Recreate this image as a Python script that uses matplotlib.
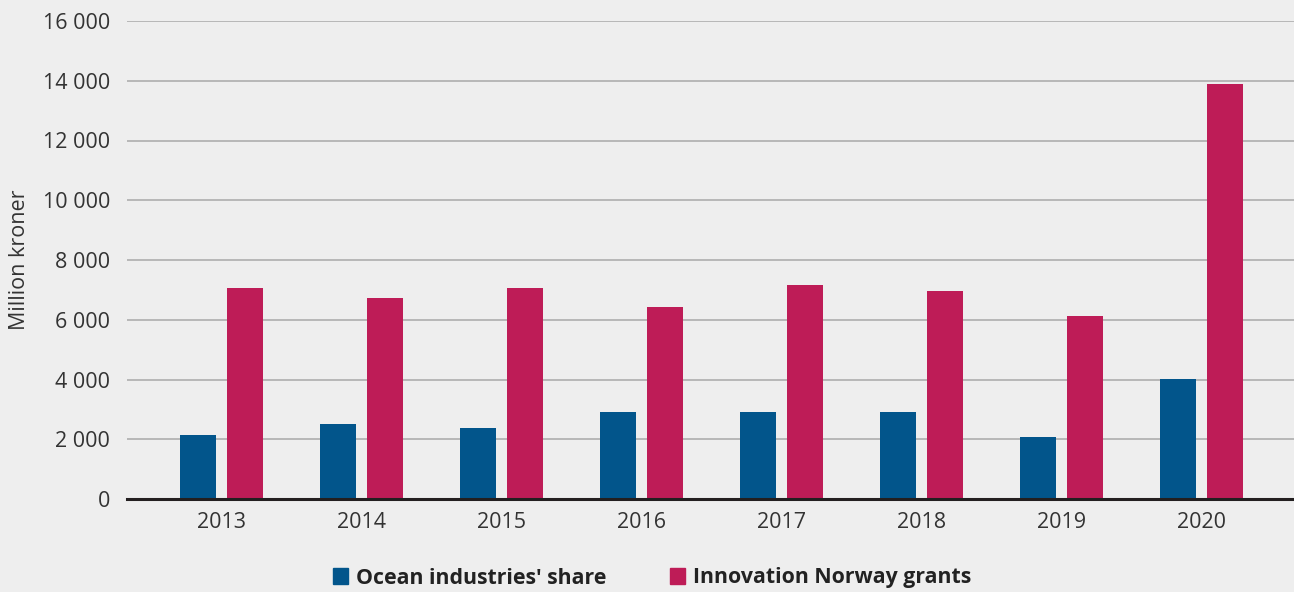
import numpy as np
import matplotlib.pyplot as plt
from matplotlib.patches import Patch

plt.rcParams['font.family'] = ['Open Sans', 'DejaVu Sans']

years = ['2013', '2014', '2015', '2016', '2017', '2018', '2019', '2020']
ocean_share = [2150, 2520, 2360, 2920, 2920, 2920, 2090, 4030]
innovation_grants = [7050, 6740, 7050, 6440, 7150, 6950, 6140, 13880]
y_ticks = [0, 2000, 4000, 6000, 8000, 10000, 12000, 14000, 16000]

blue = '#02558b'
pink = '#be1c57'
bg = '#eeeeee'

fig = plt.figure(figsize=(12.94, 5.92), dpi=100, facecolor=bg)
ax = fig.add_axes([127 / 1294, 93 / 592, 1 - 127 / 1294, 478 / 592])
ax.set_facecolor(bg)

x = np.arange(len(years))
w = 0.257
off = 0.168
ax.bar(x - off, ocean_share, width=w, color=blue, zorder=3)
ax.bar(x + off, innovation_grants, width=w, color=pink, zorder=3)

ax.set_xlim(-0.675, 7.66)
ax.set_ylim(0, 16000)
ax.set_yticks(y_ticks)
ax.set_yticklabels([f'{v:,}'.replace(',', ' ') for v in y_ticks])
ax.set_xticks(x)
ax.set_xticklabels(years)
ax.tick_params(axis='both', length=0, labelsize=15.5, colors='#333333')
ax.tick_params(axis='y', pad=12)
ax.tick_params(axis='x', pad=9)

ax.grid(axis='y', color='#a8a8a8', linewidth=1.1, zorder=1)
for s in ['top', 'right', 'left']:
    ax.spines[s].set_visible(False)
ax.spines['bottom'].set_color('#231f20')
ax.spines['bottom'].set_linewidth(2.2)
ax.spines['bottom'].set_zorder(4)

ax.set_ylabel('Million kroner', fontsize=15.5, color='#333333')
ax.yaxis.set_label_coords(-0.0835, 0.5)

handles = [Patch(color=blue, label="Ocean industries' share"),
           Patch(color=pink, label='Innovation Norway grants')]
fig.legend(handles=handles, loc='center', bbox_to_anchor=(652 / 1294, 1 - 578 / 592),
           ncol=2, frameon=False, prop={'weight': 'bold', 'size': 15.3},
           handlelength=0.72, handleheight=0.72, handletextpad=0.35, columnspacing=3.0,
           labelcolor='#222222')

fig.savefig('out.png', dpi=100, facecolor=bg)
